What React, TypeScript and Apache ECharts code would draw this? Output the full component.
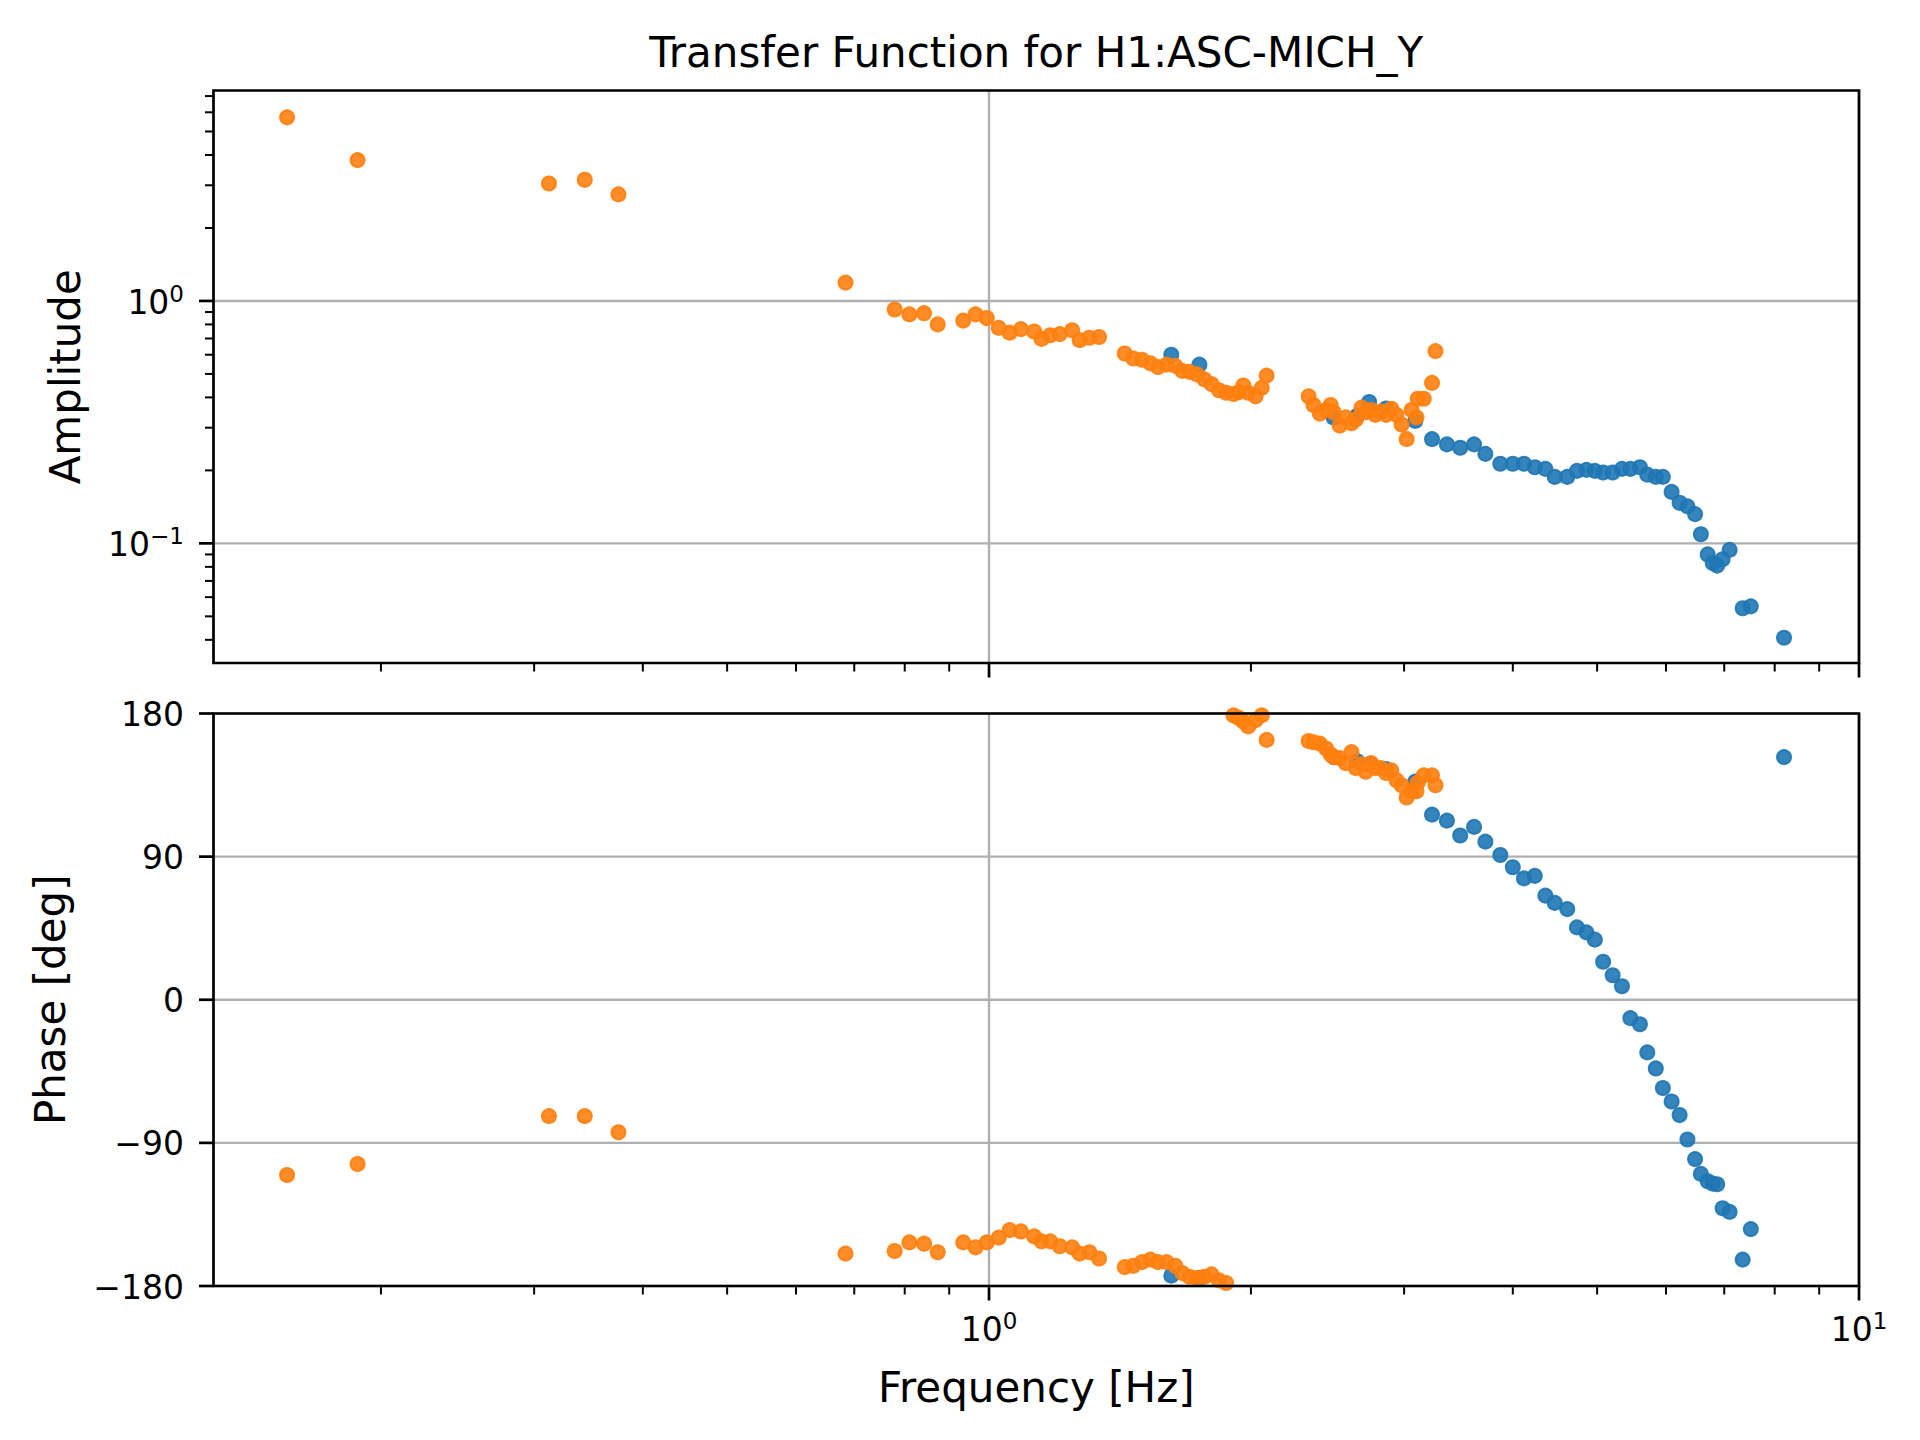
import React, { useEffect, useRef } from 'react';
import * as echarts from 'echarts';

// Orange: low-frequency measurement, blue: high-frequency measurement
const orangeFreq = [
  0.156, 0.188, 0.312, 0.343, 0.375,
  0.684, 0.779, 0.81, 0.842, 0.873, 0.934, 0.965, 0.994, 1.026, 1.056, 1.088, 1.127, 1.149, 1.176, 1.206, 1.246, 1.271, 1.304, 1.338,
  1.432, 1.465, 1.499, 1.533, 1.564, 1.6, 1.637, 1.668, 1.7, 1.734, 1.768, 1.802, 1.838, 1.873, 1.91, 1.935, 1.96, 1.986, 2.025, 2.058, 2.085,
  2.33, 2.36, 2.4, 2.44, 2.47, 2.49, 2.53, 2.57, 2.61, 2.64, 2.68, 2.71, 2.75, 2.78, 2.82, 2.86, 2.9, 2.94, 2.98, 3.02, 3.06, 3.1, 3.11, 3.16, 3.23, 3.26,
];
const orangeAmp = [
  5.72, 3.81, 3.05, 3.16, 2.75,
  1.19, 0.922, 0.88, 0.89, 0.8, 0.83, 0.88, 0.85, 0.774, 0.74, 0.765, 0.748, 0.697, 0.722, 0.73, 0.757, 0.689, 0.705, 0.71,
  0.607, 0.579, 0.572, 0.553, 0.534, 0.546, 0.54, 0.515, 0.51, 0.498, 0.475, 0.454, 0.428, 0.418, 0.413, 0.42, 0.448, 0.418, 0.404, 0.438, 0.492,
  0.404, 0.372, 0.343, 0.355, 0.372, 0.347, 0.306, 0.331, 0.313, 0.324, 0.363, 0.347, 0.355, 0.339, 0.35, 0.339, 0.359, 0.339, 0.309, 0.269, 0.355, 0.331, 0.395, 0.395, 0.459, 0.621,
];
const orangePhase = [
  -110.2, -103.3, -73.2, -73.2, -83.3,
  -159.6, -158.0, -152.6, -153.4, -158.8, -152.6, -155.7, -152.6, -149.6, -144.9, -145.7, -148.8, -151.9, -151.9, -155.0, -155.7, -159.6, -158.8, -162.7,
  -168.1, -167.3, -165.0, -163.4, -165.0, -165.0, -167.3, -171.9, -174.2, -175.0, -174.2, -172.7, -176.5, -178.1, 178.8, 177.3, 175.0, 171.9, 175.8, 178.8, 163.4,
  162.7, 161.9, 161.1, 158.0, 154.2, 152.6, 151.9, 148.8, 155.7, 145.7, 148.0, 143.4, 148.8, 145.7, 145.7, 142.6, 144.2, 138.0, 134.9, 127.2, 131.1, 131.1, 136.5, 141.1, 141.1, 134.9,
];

const blueFreq = [
  1.62, 1.745, 2.49, 2.65, 2.735, 2.86, 3.09,
  3.23, 3.36, 3.48, 3.61, 3.72, 3.87, 4.0, 4.12, 4.24, 4.36, 4.47, 4.62, 4.74, 4.86, 4.97, 5.08, 5.21, 5.34, 5.46, 5.6,
  5.71, 5.84, 5.95, 6.09, 6.22, 6.35, 6.48, 6.58, 6.7, 6.79, 6.87, 6.97, 7.1, 7.35, 7.51, 8.2,
];
const blueAmp = [
  0.6, 0.546, 0.33, 0.336, 0.383, 0.36, 0.32,
  0.269, 0.256, 0.248, 0.256, 0.234, 0.213, 0.213, 0.213, 0.206, 0.203, 0.188, 0.188, 0.199, 0.201, 0.199, 0.196, 0.196, 0.203, 0.203, 0.206,
  0.192, 0.188, 0.188, 0.163, 0.147, 0.142, 0.132, 0.109, 0.09, 0.083, 0.081, 0.086, 0.094, 0.054, 0.055, 0.0408,
];
const bluePhase = [
  -173.5, -175, 152.6, 150, 148, 145, 137.2,
  116.4, 112.6, 103.3, 108.7, 99.4, 91.0, 83.3, 76.3, 77.9, 65.5, 60.9, 57.0, 45.5, 42.4, 37.8, 23.9, 15.4, 8.5, -11.6, -15.4,
  -33.1, -43.2, -55.5, -64.0, -72.5, -87.9, -100.2, -109.5, -114.1, -115.6, -116.0, -131.1, -133.4, -163.4, -144.2, 152.6,
];

// axis limits and ticks
const freqRange = [0.1284, 10];
const ampRange = [0.0321, 7.38];
const phaseRange = [-180, 180];
const freqMajorTicks = [1, 10];
const freqMinorTicks = [0.2, 0.3, 0.4, 0.5, 0.6, 0.7, 0.8, 0.9, 2, 3, 4, 5, 6, 7, 8, 9];
const ampMajorTicks = [0.1, 1];
const ampMinorTicks = [0.04, 0.05, 0.06, 0.07, 0.08, 0.09, 0.2, 0.3, 0.4, 0.5, 0.6, 0.7, 0.8, 0.9, 2, 3, 4, 5, 6, 7];
const phaseTicks = [-180, -90, 0, 90, 180];

const FONT_FAMILY = '"DejaVu Sans", sans-serif';
const TICK_SIZE = 33;
const SUP_SIZE = 23;
const SUP_RAISE = 11.5;
const LABEL_SIZE = 42;
const TITLE_SIZE = 42;
const CENTRAL = 0.346; // DejaVu: distance from baseline to central line, in em
const GRID_COLOR = '#b0b0b0';
const MAJOR_LEN = 14.5;
const MINOR_LEN = 8.5;

const GRID_LEFT = 213.5;
const GRID_WIDTH = 1645.5;
const GRID_HEIGHT = 572.5;
const TOP_AMP = 90.5;
const TOP_PHASE = 713.5;

let measureCtx: CanvasRenderingContext2D | null = null;
const measure = (s: string, size: number) => {
  if (!measureCtx) measureCtx = document.createElement('canvas').getContext('2d');
  if (!measureCtx) return s.length * size * 0.636;
  measureCtx.font = `${size}px ${FONT_FAMILY}`;
  return measureCtx.measureText(s).width;
};

const textEl = (s: string, x: number, baseline: number, size: number, align = 'left') => ({
  type: 'text',
  style: {
    text: s,
    x,
    y: baseline - CENTRAL * size,
    fill: '#000',
    fontSize: size,
    fontFamily: FONT_FAMILY,
    align,
    verticalAlign: 'middle',
  },
});

const minus = (v: number) => (v < 0 ? '\u2212' + Math.abs(v) : String(v));

type LabelFn = (v: number, anchor: number, baseline: number, align: 'center' | 'right') => any[];

const logLabel: LabelFn = (v, anchor, baseline, align) => {
  const expText = minus(Math.round(Math.log10(v)));
  const wb = measure('10', TICK_SIZE);
  const ws = measure(expText, SUP_SIZE);
  const left = align === 'center' ? anchor - (wb + ws) / 2 : anchor - wb - ws;
  return [
    textEl('10', left, baseline, TICK_SIZE),
    textEl(expText, left + wb, baseline - SUP_RAISE, SUP_SIZE),
  ];
};

const linearLabel: LabelFn = (v, anchor, baseline, align) => [
  textEl(minus(v), anchor, baseline, TICK_SIZE, align),
];

// ticks, tick labels and grid lines of one axis, placed through the axis scale
const tickSeries = (
  grid: number,
  dim: 'x' | 'y',
  major: number[],
  minor: number[],
  ref: number,
  label: LabelFn | null,
) => ({
  type: 'custom',
  coordinateSystem: 'cartesian2d',
  xAxisIndex: grid,
  yAxisIndex: grid,
  silent: true,
  z: 1,
  data: [
    ...major.map((v) => (dim === 'x' ? [v, ref, 1] : [ref, v, 1])),
    ...minor.map((v) => (dim === 'x' ? [v, ref, 0] : [ref, v, 0])),
  ],
  renderItem: (params: any, api: any) => {
    const cs = params.coordSys;
    const isMajor = api.value(2) === 1;
    const pt = api.coord([api.value(0), api.value(1)]);
    const len = isMajor ? MAJOR_LEN : MINOR_LEN;
    const tickStyle = { stroke: '#000', lineWidth: isMajor ? 2.7 : 2 };
    const children: any[] = [];
    if (dim === 'x') {
      const x = pt[0];
      const bottom = cs.y + cs.height;
      if (isMajor) {
        children.push({
          type: 'line',
          shape: { x1: x, y1: cs.y, x2: x, y2: bottom },
          style: { stroke: GRID_COLOR, lineWidth: 2.4 },
        });
      }
      children.push({ type: 'line', shape: { x1: x, y1: bottom, x2: x, y2: bottom + len }, style: tickStyle });
      if (isMajor && label) children.push(...label(api.value(0), x, bottom + 54.5, 'center'));
    } else {
      const y = pt[1];
      const left = cs.x;
      if (isMajor) {
        children.push({
          type: 'line',
          shape: { x1: left, y1: y, x2: left + cs.width, y2: y },
          style: { stroke: GRID_COLOR, lineWidth: 2.4 },
        });
      }
      children.push({ type: 'line', shape: { x1: left, y1: y, x2: left - len, y2: y }, style: tickStyle });
      if (isMajor && label) children.push(...label(api.value(1), left - 29.5, y + 12.5, 'right'));
    }
    return { type: 'group', children };
  },
});

const scatter = (grid: number, xs: number[], ys: number[], rgb: string) => ({
  type: 'scatter',
  xAxisIndex: grid,
  yAxisIndex: grid,
  data: xs.map((x, i) => [x, ys[i]]),
  symbol: 'circle',
  symbolSize: 14,
  silent: true,
  clip: true,
  z: 2,
  itemStyle: {
    color: `rgba(${rgb},0.9)`,
    borderColor: `rgba(${rgb},0.9)`,
    borderWidth: 2,
    opacity: 1,
  },
});

const BLUE = '31,119,180';
const ORANGE = '255,127,14';

const App: React.FC = () => {
  const chartRef = useRef<HTMLDivElement>(null);

  useEffect(() => {
    document.body.style.margin = '0';
    if (!chartRef.current) return;

    const chart = echarts.init(chartRef.current, null, { renderer: 'svg' });
    const centerX = GRID_LEFT + GRID_WIDTH / 2;

    const option: any = {
      animation: false,
      backgroundColor: '#fff',
      grid: [
        { left: GRID_LEFT, top: TOP_AMP, width: GRID_WIDTH, height: GRID_HEIGHT },
        { left: GRID_LEFT, top: TOP_PHASE, width: GRID_WIDTH, height: GRID_HEIGHT },
      ].map((g) => ({ ...g, show: true, borderColor: '#000', borderWidth: 2.7, z: 5 })),
      xAxis: [0, 1].map((i) => ({
        type: 'log',
        logBase: 10,
        gridIndex: i,
        min: freqRange[0],
        max: freqRange[1],
        show: false,
      })),
      yAxis: [
        { type: 'log', logBase: 10, gridIndex: 0, min: ampRange[0], max: ampRange[1], show: false },
        { type: 'value', gridIndex: 1, min: phaseRange[0], max: phaseRange[1], show: false },
      ],
      graphic: [
        {
          type: 'text',
          x: centerX,
          y: 66.7 - CENTRAL * TITLE_SIZE,
          style: { text: 'Transfer Function for H1:ASC-MICH_Y', fontSize: TITLE_SIZE, fontFamily: FONT_FAMILY, fill: '#000', align: 'center', verticalAlign: 'middle' },
        },
        {
          type: 'text',
          x: centerX,
          y: 1401.7 - CENTRAL * LABEL_SIZE,
          style: { text: 'Frequency [Hz]', fontSize: LABEL_SIZE, fontFamily: FONT_FAMILY, fill: '#000', align: 'center', verticalAlign: 'middle' },
        },
        {
          type: 'text',
          x: 80 - CENTRAL * LABEL_SIZE,
          y: TOP_AMP + GRID_HEIGHT / 2,
          rotation: Math.PI / 2,
          style: { text: 'Amplitude', fontSize: LABEL_SIZE, fontFamily: FONT_FAMILY, fill: '#000', align: 'center', verticalAlign: 'middle' },
        },
        {
          type: 'text',
          x: 65 - CENTRAL * LABEL_SIZE,
          y: TOP_PHASE + GRID_HEIGHT / 2,
          rotation: Math.PI / 2,
          style: { text: 'Phase [deg]', fontSize: LABEL_SIZE, fontFamily: FONT_FAMILY, fill: '#000', align: 'center', verticalAlign: 'middle' },
        },
      ],
      series: [
        tickSeries(0, 'x', freqMajorTicks, freqMinorTicks, 1, null),
        tickSeries(0, 'y', ampMajorTicks, ampMinorTicks, 1, logLabel),
        tickSeries(1, 'x', freqMajorTicks, freqMinorTicks, 0, logLabel),
        tickSeries(1, 'y', phaseTicks, [], 1, linearLabel),
        scatter(0, blueFreq, blueAmp, BLUE),
        scatter(0, orangeFreq, orangeAmp, ORANGE),
        scatter(1, blueFreq, bluePhase, BLUE),
        scatter(1, orangeFreq, orangePhase, ORANGE),
      ],
    };

    chart.setOption(option);

    return () => {
      chart.dispose();
    };
  }, []);

  return <div ref={chartRef} style={{ width: 1920, height: 1440 }} />;
};

export default App;
